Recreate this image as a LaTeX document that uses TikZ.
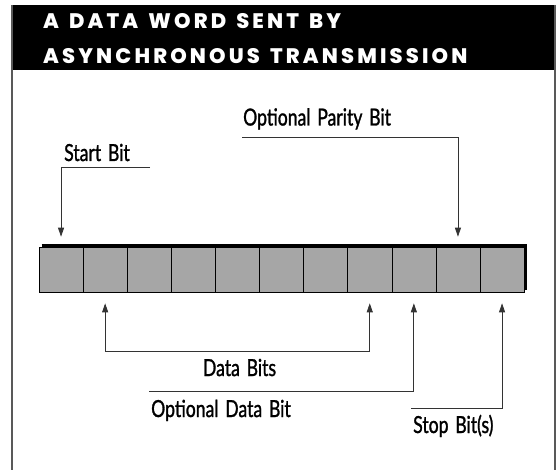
\documentclass[tikz,border=0pt]{standalone}
\usepackage{fontspec}
\setmainfont{Lato}[FakeStretch=0.75, FakeBold=1.2, WordSpace=1.5]
\newfontfamily\headfont{Poppins ExtraBold}[LetterSpace=15, WordSpace=1.4]
\usepackage{tikz}
\usetikzlibrary{arrows.meta, positioning}
\tikzstyle{bitcell} = [rectangle, minimum width=44.1pt, minimum height=45pt, inner sep=0pt, draw=black, fill=black!35, line width=0.6pt]
\tikzstyle{arrow} = [draw=black!80, line width=0.8pt, >={Triangle[width=6pt,length=9pt]}, ->]
\tikzstyle{txt} = [font=\fontsize{23.5}{26}\selectfont, inner sep=0pt]
\tikzstyle{head} = [font=\headfont\fontsize{21}{24}\selectfont, text=white, inner sep=0pt, anchor=base west]
\begin{document}
\begin{tikzpicture}[x=1pt,y=-1pt]
	\useasboundingbox (0,0) rectangle (556,470);
	\fill[black] (12,5) rectangle (556,70);
	\draw[black!65, line width=2pt] (12,470) -- (12,5) (555,5) -- (555,470);
	\node (title1) [head] at (43,28.5) {A DATA WORD SENT BY};
	\node (title2) [head] at (43,63.5) {ASYNCHRONOUS TRANSMISSION};
	\foreach \i in {1,...,11}
		\node (c\i) [bitcell] at (16.95+44.1*\i, 269.5) {};
	\draw[line width=3pt] ([xshift=3pt,yshift=1.5pt]c1.north west) -| ([xshift=1.5pt,yshift=2pt]c11.south east);
	\node (start) [txt, anchor=base west] at (64,161) {Start Bit};
	\coordinate (startend) at (150,167);
	\draw[arrow, shorten >=10pt] (startend) -| (c1.north);
	\node (parity) [txt, anchor=base west] at (243,125.5) {Optional Parity Bit};
	\coordinate (parityend) at (242,137);
	\draw[arrow, shorten >=10pt] (parityend) -| (c10.north);
	\coordinate (databar) at (0,351);
	\draw[arrow, <->, shorten <=11pt, shorten >=11pt] (c2.south) |- (databar -| c8.south) -- (c8.south);
	\node (data) [txt, anchor=base] at (239.5,376) {Data Bits};
	\coordinate (optend) at (149,391.5);
	\draw[arrow, shorten >=11pt] (optend) -| (c9.south);
	\node (optdata) [txt, anchor=base west] at (151,417) {Optional Data Bit};
	\coordinate (stopend) at (411,408);
	\draw[arrow, shorten >=11pt] (stopend) -| (c11.south);
	\node (stop) [txt, anchor=base west] at (413,433) {Stop Bit(s)};
\end{tikzpicture}
\end{document}
